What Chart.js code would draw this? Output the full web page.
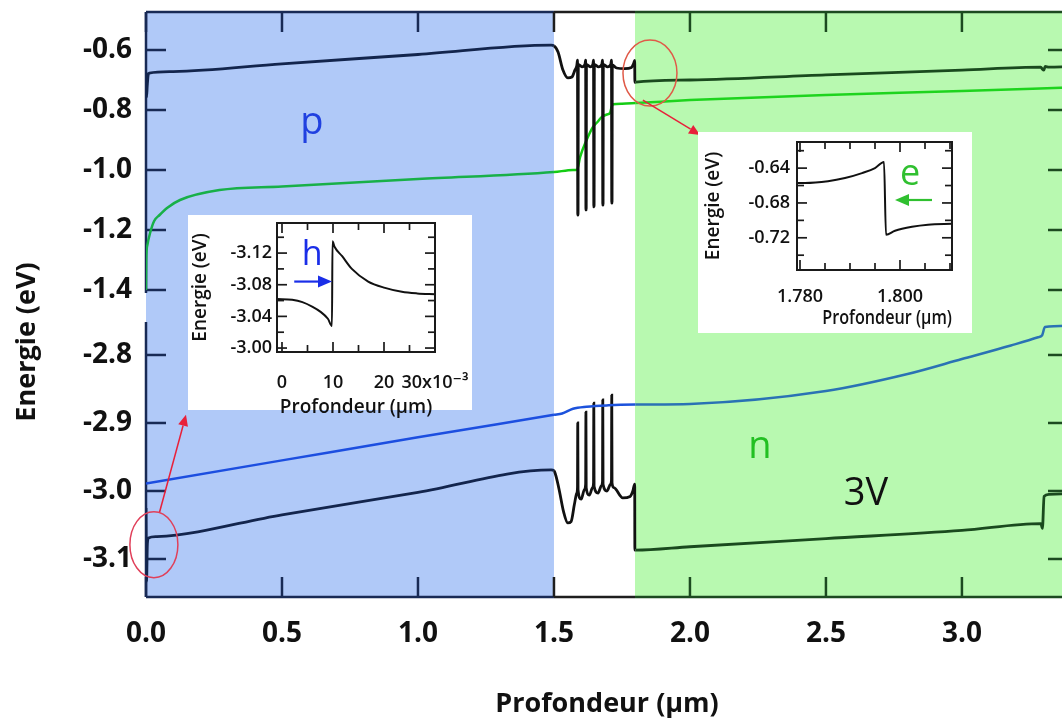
<!DOCTYPE html>
<html>
<head>
<meta charset="utf-8">
<title>Energie - Profondeur</title>
<script src="https://cdn.jsdelivr.net/npm/chart.js@4.4.1/dist/chart.umd.min.js"></script>
<style>
html, body { margin:0; padding:0; background:#fff; width:1062px; height:722px; overflow:hidden; }
#wrap { position:relative; width:1062px; height:722px; overflow:hidden; }
#main { position:absolute; left:0; top:0; }
#insL { position:absolute; left:188px; top:215px; }
#insR { position:absolute; left:698px; top:132px; }
</style>
</head>
<body>
<div id="wrap">
<canvas id="main" width="1075" height="722"></canvas>
<canvas id="insL" width="300" height="215"></canvas>
<canvas id="insR" width="300" height="215"></canvas>
</div>
<script>
// ---------------- data ----------------
const xTicks    = [0, 0.5, 1.0, 1.5, 2.0, 2.5, 3.0];
const yTopTicks = [-1.4, -1.2, -1.0, -0.8, -0.6];
const yBotTicks = [-3.1, -3.0, -2.9, -2.8];
const pRegion = [0, 1.5];
const nRegion = [1.798, 3.39];

// conduction band (black, top panel)
const ecX = [0, 0.002, 0.0045, 0.008, 0.012, 0.1, 0.5, 1.0, 1.49, 1.50, 1.515, 1.533, 1.551, 1.566, 1.577, 1.584,
  1.5865, 1.5875, 1.5885, 1.5895, 1.603, 1.614,
  1.6165, 1.6175, 1.6185, 1.6195, 1.633, 1.643,
  1.6455, 1.6465, 1.6475, 1.6485, 1.664, 1.676,
  1.6785, 1.6795, 1.6805, 1.6815, 1.697, 1.709,
  1.7115, 1.7125, 1.7135, 1.7145, 1.73, 1.76, 1.785, 1.793, 1.7968, 1.7975, 1.80, 2.0, 2.5, 3.0, 3.29, 3.296, 3.301, 3.306, 3.32, 3.39];
const ecY = [-0.675, -0.757, -0.72, -0.683, -0.677, -0.672, -0.646, -0.615, -0.584, -0.586, -0.607, -0.667, -0.693, -0.69, -0.667, -0.652,
  -0.634, -1.15, -1.15, -0.648, -0.656, -0.648,
  -0.634, -1.133, -1.133, -0.648, -0.656, -0.648,
  -0.634, -1.123, -1.123, -0.648, -0.656, -0.648,
  -0.634, -1.117, -1.117, -0.648, -0.656, -0.648,
  -0.634, -1.11, -1.11, -0.65, -0.66, -0.662, -0.658, -0.645, -0.635, -0.708, -0.707, -0.70, -0.683, -0.667, -0.657, -0.664, -0.667, -0.655, -0.657, -0.656];

// electron quasi-Fermi level (green, top panel)
const efnX = [0, 0.001, 0.005, 0.015, 0.03, 0.05, 0.08, 0.125, 0.27, 0.5, 1.0, 1.5, 1.57, 1.585, 1.596, 1.62, 1.643, 1.66, 1.676, 1.695, 1.706, 1.712, 1.717, 1.75, 1.8, 2.0, 2.5, 3.0, 3.39];
const efnY = [-1.40, -1.30, -1.25, -1.21, -1.17, -1.15, -1.125, -1.10, -1.067, -1.055, -1.03, -1.007, -1.0, -0.999, -0.957, -0.90, -0.857, -0.84, -0.823, -0.815, -0.81, -0.79, -0.781, -0.779, -0.777, -0.767, -0.75, -0.737, -0.725];

// hole quasi-Fermi level (blue, bottom panel)
const efpX = [0, 0.5, 1.0, 1.5, 1.53, 1.57, 1.62, 1.7, 1.8, 2.0, 2.5, 2.8, 3.0, 3.18, 3.28, 3.295, 3.305, 3.39];
const efpY = [-2.989, -2.955, -2.921, -2.888, -2.886, -2.879, -2.876, -2.874, -2.873, -2.872, -2.853, -2.828, -2.806, -2.786, -2.774, -2.771, -2.759, -2.757];

// valence band (black, bottom panel)
const evX = [0, 0.002, 0.005, 0.009, 0.04, 0.5, 1.0, 1.49, 1.50, 1.508, 1.52, 1.535, 1.551, 1.563, 1.575, 1.584,
  1.5865, 1.5875, 1.5885, 1.60, 1.612,
  1.6165, 1.6175, 1.6185, 1.63, 1.642,
  1.6455, 1.6465, 1.6475, 1.662, 1.675,
  1.6785, 1.6795, 1.6805, 1.695, 1.708,
  1.7115, 1.7125, 1.7135, 1.72, 1.753, 1.78, 1.79, 1.7968, 1.7975, 1.80, 2.0, 2.5, 3.0, 3.29, 3.296, 3.302, 3.32, 3.39];
const evY = [-3.025, -3.133, -3.078, -3.069, -3.067, -3.035, -3.002, -2.969, -2.970, -2.979, -3.0, -3.03, -3.047, -3.045, -3.02, -3.003,
  -2.995, -2.90, -2.998, -3.012, -2.998,
  -2.99, -2.884, -2.995, -3.006, -2.995,
  -2.988, -2.871, -2.993, -3.003, -2.992,
  -2.986, -2.866, -2.99, -3.0, -2.99,
  -2.984, -2.859, -2.988, -2.995, -3.01, -3.008, -3.0, -2.99, -3.087, -3.087, -3.082, -3.07, -3.058, -3.048, -3.055, -3.008, -3.005, -3.004];

// left inset (holes near x = 0)
const insLX = [-0.001, 0.002, 0.004, 0.006, 0.0075, 0.009, 0.0098, 0.0099, 0.0103, 0.0118, 0.0137, 0.0169, 0.0202, 0.0235, 0.0265, 0.030];
const insLY = [-3.062, -3.061, -3.058, -3.052, -3.046, -3.037, -3.028, -3.135, -3.128, -3.116, -3.10, -3.084, -3.076, -3.071, -3.069, -3.068];
const insLXTicks  = [0, 0.01, 0.02, 0.03];
const insLXLabels = ['0', '10', '20', '30x10\u207B\u00B3'];
const insLXMinor  = [0, 0.005, 0.01, 0.015, 0.02, 0.025, 0.03];
const insLYTicks  = [-3.12, -3.08, -3.04, -3.00];
const insLYMinor  = [-3.14, -3.12, -3.10, -3.08, -3.06, -3.04, -3.02, -3.00];

// right inset (electrons near x = 1.8)
const insRX = [1.7794, 1.781, 1.7856, 1.789, 1.7924, 1.795, 1.7968, 1.7972, 1.799, 1.8024, 1.8056, 1.8104];
const insRY = [-0.657, -0.657, -0.655, -0.6514, -0.6457, -0.640, -0.633, -0.7166, -0.712, -0.7074, -0.705, -0.704];
const insRXTicks = [1.78, 1.80];
const insRXMinor = [1.78, 1.785, 1.79, 1.795, 1.80, 1.805, 1.81];
const insRYTicks = [-0.72, -0.68, -0.64];
const insRYMinor = [-0.74, -0.72, -0.70, -0.68, -0.66, -0.64, -0.62];

// ---------------- style ----------------
const FONT = "'Open Sans', 'DejaVu Sans', sans-serif";
Chart.defaults.font.family = FONT;
const P_BG = '#b0c9f8', N_BG = '#b8f9b0';
const FRAME  = ['#182a55', '#1e1e1e', '#1c4a20'];
const BLACKS = ['#13254d', '#111111', '#1a4a1e'];
const GREENS = ['#18b048', '#14cc14', '#1ed41e'];
const BLUES  = ['#1c4ee0', '#1c52dc', '#2a72b4'];

function regionOf(v) { return v < pRegion[1] ? 0 : (v < nRegion[0] ? 1 : 2); }
function pts(xs, ys) { return xs.map((x, i) => ({ x: x, y: ys[i] })); }
function seg(ctx, x1, y1, x2, y2) { ctx.beginPath(); ctx.moveTo(x1, y1); ctx.lineTo(x2, y2); ctx.stroke(); }
function noPad(s) { s.paddingTop = 0; s.paddingBottom = 0; s.paddingLeft = 0; s.paddingRight = 0; }
function arrow(ctx, x1, y1, x2, y2, color, lw, hl, hw) {
  const ang = Math.atan2(y2 - y1, x2 - x1);
  ctx.save();
  ctx.strokeStyle = color; ctx.fillStyle = color; ctx.lineWidth = lw;
  const bx = x2 - hl * Math.cos(ang), by = y2 - hl * Math.sin(ang);
  seg(ctx, x1, y1, bx, by);
  ctx.beginPath();
  ctx.moveTo(x2, y2);
  ctx.lineTo(bx + hw * Math.sin(ang), by - hw * Math.cos(ang));
  ctx.lineTo(bx - hw * Math.sin(ang), by + hw * Math.cos(ang));
  ctx.closePath(); ctx.fill();
  ctx.restore();
}
const segColor = pal => ({ borderColor: c => pal[regionOf(c.p0.parsed.x)] });

// ---------------- main chart ----------------
const mainDeco = {
  id: 'mainDeco',
  beforeDatasetsDraw(chart) {
    const { ctx, chartArea: a, scales: { x, yTop, yBot } } = chart;
    ctx.save();
    const p0 = x.getPixelForValue(pRegion[0]), p1 = x.getPixelForValue(pRegion[1]);
    const n0 = x.getPixelForValue(nRegion[0]), n1 = x.getPixelForValue(nRegion[1]);
    ctx.fillStyle = P_BG; ctx.fillRect(p0, a.top, p1 - p0, a.bottom - a.top);
    ctx.fillStyle = N_BG; ctx.fillRect(n0, a.top, Math.max(n1, a.right) - n0, a.bottom - a.top);
    // frame (broken left/right axes) and inward ticks
    ctx.lineWidth = 2.5; ctx.lineCap = 'butt';
    const b = [a.left, p1, n0, a.right];
    for (const yy of [a.top, a.bottom]) {
      for (let r = 0; r < 3; r++) { ctx.strokeStyle = FRAME[r]; seg(ctx, b[r], yy, b[r + 1], yy); }
    }
    const breakTop = yTop.getPixelForValue(-1.41);
    ctx.strokeStyle = FRAME[0];
    seg(ctx, a.left, a.top, a.left, breakTop); seg(ctx, a.left, yBot.top, a.left, a.bottom);
    ctx.strokeStyle = FRAME[2];
    seg(ctx, a.right, a.top, a.right, breakTop); seg(ctx, a.right, yBot.top, a.right, a.bottom);
    const TL = 20;
    const yt = yTopTicks.map(v => yTop.getPixelForValue(v)).concat(yBotTicks.map(v => yBot.getPixelForValue(v)));
    for (const py of yt) {
      ctx.strokeStyle = FRAME[0]; seg(ctx, a.left, py, a.left + TL, py);
      ctx.strokeStyle = FRAME[2]; seg(ctx, a.right - TL, py, a.right, py);
    }
    for (const v of xTicks) {
      const px = x.getPixelForValue(v);
      ctx.strokeStyle = FRAME[regionOf(v)];
      seg(ctx, px, a.bottom, px, a.bottom - TL);
      seg(ctx, px, a.top, px, a.top + TL);
    }
    ctx.restore();
  },
  afterDatasetsDraw(chart) {
    const { ctx, scales: { x, yTop, yBot } } = chart;
    ctx.save();
    // red circles and arrows
    ctx.lineWidth = 1.5;
    ctx.strokeStyle = '#e0405a';
    ctx.beginPath(); ctx.ellipse(x.getPixelForValue(0.029), yBot.getPixelForValue(-3.079), 24, 33, 0, 0, Math.PI * 2); ctx.stroke();
    arrow(ctx, x.getPixelForValue(0.05), yBot.getPixelForValue(-3.031), x.getPixelForValue(0.147), yBot.getPixelForValue(-2.888), '#e8203a', 1.5, 11, 5);
    ctx.strokeStyle = '#e05a48';
    ctx.beginPath(); ctx.ellipse(x.getPixelForValue(1.853), yTop.getPixelForValue(-0.677), 27, 33, 0, 0, Math.PI * 2); ctx.stroke();
    arrow(ctx, x.getPixelForValue(1.827), yTop.getPixelForValue(-0.767), x.getPixelForValue(2.037), yTop.getPixelForValue(-0.883), '#e8203a', 1.5, 11, 5);
    // region labels
    ctx.textAlign = 'center'; ctx.textBaseline = 'alphabetic';
    ctx.font = '38px ' + FONT;
    ctx.fillStyle = '#2040e0'; ctx.fillText('p', x.getPixelForValue(0.61), yTop.getPixelForValue(-0.88));
    ctx.fillStyle = '#22c022'; ctx.fillText('n', x.getPixelForValue(2.257), yBot.getPixelForValue(-2.951));
    ctx.fillStyle = '#111111'; ctx.fillText('3V', x.getPixelForValue(2.647), yBot.getPixelForValue(-3.021));
    // y-axis title (spans both panels)
    ctx.save();
    ctx.translate(27, 342); ctx.rotate(-Math.PI / 2);
    ctx.font = 'bold 27px ' + FONT; ctx.textBaseline = 'middle'; ctx.fillStyle = '#111';
    ctx.fillText('Energie (eV)', 0, 0);
    ctx.restore();
    ctx.restore();
  }
};

const tickFont = { family: FONT, size: 28, weight: 'bold' };
new Chart(document.getElementById('main'), {
  type: 'line',
  data: {
    datasets: [
      { label: 'Ec',  data: pts(ecX, ecY),   yAxisID: 'yTop', borderColor: '#111', segment: segColor(BLACKS), borderWidth: 2.8, pointRadius: 0, cubicInterpolationMode: 'monotone' },
      { label: 'EFn', data: pts(efnX, efnY), yAxisID: 'yTop', borderColor: '#14cc14', segment: segColor(GREENS), borderWidth: 2.5, pointRadius: 0, cubicInterpolationMode: 'monotone' },
      { label: 'EFp', data: pts(efpX, efpY), yAxisID: 'yBot', borderColor: '#1c52dc', segment: segColor(BLUES), borderWidth: 2.5, pointRadius: 0, cubicInterpolationMode: 'monotone' },
      { label: 'Ev',  data: pts(evX, evY),   yAxisID: 'yBot', borderColor: '#111', segment: segColor(BLACKS), borderWidth: 2.8, pointRadius: 0, cubicInterpolationMode: 'monotone' }
    ]
  },
  options: {
    responsive: false, animation: false, devicePixelRatio: 1, events: [],
    layout: { padding: { top: 12, right: 7, left: 0, bottom: 0 } },
    plugins: { legend: { display: false }, tooltip: { enabled: false } },
    scales: {
      x: {
        type: 'linear', position: 'bottom', min: 0, max: 3.39,
        afterBuildTicks: s => { s.ticks = xTicks.map(v => ({ value: v })); },
        ticks: { font: tickFont, color: '#111', padding: 20, maxRotation: 0, autoSkip: false, callback: v => Number(v).toFixed(1) },
        grid: { display: false, drawTicks: false }, border: { display: false },
        title: { display: true, text: 'Profondeur (\u00B5m)', color: '#111', font: { family: FONT, size: 27, weight: 'bold' }, padding: { top: 0, bottom: 1 } },
        afterFit: s => { s.height = 125; noPad(s); }
      },
      yTop: {
        type: 'linear', position: 'left', stack: 'energy', stackWeight: 310, weight: 1,
        min: -1.5067, max: -0.4733,
        afterBuildTicks: s => { s.ticks = yTopTicks.map(v => ({ value: v })); },
        ticks: { font: tickFont, color: '#111', padding: 14, callback: v => Number(v).toFixed(1) },
        grid: { display: false, drawTicks: false }, border: { display: false },
        afterFit: s => { s.width = 146; noPad(s); }
      },
      yBot: {
        type: 'linear', position: 'left', stack: 'energy', stackWeight: 275, weight: 0,
        min: -3.1559, max: -2.7515,
        afterBuildTicks: s => { s.ticks = yBotTicks.map(v => ({ value: v })); },
        ticks: { font: tickFont, color: '#111', padding: 14, callback: v => Number(v).toFixed(1) },
        grid: { display: false, drawTicks: false }, border: { display: false },
        afterFit: s => { s.width = 146; noPad(s); }
      }
    }
  },
  plugins: [mainDeco]
});

// ---------------- insets ----------------
function insetDeco(o) {
  return {
    id: 'insetDeco',
    beforeDraw(chart) {
      const ctx = chart.ctx;
      ctx.save(); ctx.fillStyle = '#ffffff'; ctx.fillRect(0, 0, o.boxW, o.boxH); ctx.restore();
    },
    afterDatasetsDraw(chart) {
      const { ctx, chartArea: a, scales: { x, y } } = chart;
      ctx.save();
      ctx.strokeStyle = '#1a1a1a'; ctx.lineWidth = 2;
      ctx.strokeRect(a.left, a.top, a.right - a.left, a.bottom - a.top);
      ctx.lineWidth = 1.7;
      const isMaj = (arr, v) => arr.some(t => Math.abs(t - v) < 1e-9);
      for (const v of o.xMinor) {
        const px = x.getPixelForValue(v), L = isMaj(o.xMajor, v) ? 10 : 7;
        seg(ctx, px, a.bottom, px, a.bottom - L); seg(ctx, px, a.top, px, a.top + L);
      }
      for (const v of o.yMinor) {
        const py = y.getPixelForValue(v), L = isMaj(o.yMajor, v) ? 10 : 7;
        seg(ctx, a.left, py, a.left + L, py); seg(ctx, a.right, py, a.right - L, py);
      }
      ctx.fillStyle = o.color; ctx.font = o.labelFont;
      ctx.textAlign = 'center'; ctx.textBaseline = 'alphabetic';
      ctx.fillText(o.label, x.getPixelForValue(o.labelAt[0]), y.getPixelForValue(o.labelAt[1]));
      arrow(ctx, x.getPixelForValue(o.arrowFrom[0]), y.getPixelForValue(o.arrowFrom[1]),
                 x.getPixelForValue(o.arrowTo[0]), y.getPixelForValue(o.arrowTo[1]), o.color, 2.2, 14, 6);
      ctx.restore();
    }
  };
}
const inTick = { family: FONT, size: 18, weight: 600 };
const inTitle = { family: FONT, size: 19, weight: 600 };

new Chart(document.getElementById('insL'), {
  type: 'line',
  data: { datasets: [{ data: pts(insLX, insLY), borderColor: '#111', borderWidth: 2, pointRadius: 0, cubicInterpolationMode: 'monotone' }] },
  options: {
    responsive: false, animation: false, devicePixelRatio: 1, events: [],
    layout: { padding: { top: 8, right: 53, left: 0, bottom: 0 } },
    plugins: { legend: { display: false }, tooltip: { enabled: false } },
    scales: {
      x: {
        type: 'linear', min: -0.00098, max: 0.030,
        afterBuildTicks: s => { s.ticks = insLXTicks.map(v => ({ value: v })); },
        ticks: { font: inTick, color: '#111', padding: 20, maxRotation: 0, autoSkip: false, callback: (v, i) => insLXLabels[i] },
        grid: { display: false, drawTicks: false }, border: { display: false },
        title: { display: true, text: 'Profondeur (\u00B5m)', color: '#111', font: inTitle, padding: { top: 0, bottom: 11 } },
        afterFit: s => { s.height = 78; noPad(s); }
      },
      y: {
        type: 'linear', reverse: true, min: -3.158, max: -2.995,
        afterBuildTicks: s => { s.ticks = insLYTicks.map(v => ({ value: v })); },
        ticks: { font: inTick, color: '#111', padding: 5, callback: v => Number(v).toFixed(2) },
        grid: { display: false, drawTicks: false }, border: { display: false },
        title: { display: true, text: 'Energie (eV)', color: '#111', font: inTitle, padding: { top: 1, bottom: 0 } },
        afterFit: s => { s.width = 89; noPad(s); }
      }
    }
  },
  plugins: [insetDeco({ boxW: 284, boxH: 195, xMinor: insLXMinor, xMajor: insLXTicks, yMinor: insLYMinor, yMajor: insLYTicks,
    color: '#1a2ee8', label: 'h', labelFont: '34px ' + FONT, labelAt: [0.0059, -3.105],
    arrowFrom: [0.0024, -3.084], arrowTo: [0.0098, -3.084] })]
});

new Chart(document.getElementById('insR'), {
  type: 'line',
  data: { datasets: [{ data: pts(insRX, insRY), borderColor: '#111', borderWidth: 2, pointRadius: 0, cubicInterpolationMode: 'monotone' }] },
  options: {
    responsive: false, animation: false, devicePixelRatio: 1, events: [],
    layout: { padding: { top: 10, right: 46, left: 0, bottom: 0 } },
    plugins: { legend: { display: false }, tooltip: { enabled: false } },
    scales: {
      x: {
        type: 'linear', min: 1.7794, max: 1.8104,
        afterBuildTicks: s => { s.ticks = insRXTicks.map(v => ({ value: v })); },
        ticks: { font: inTick, color: '#111', padding: 16, maxRotation: 0, autoSkip: false, callback: v => Number(v).toFixed(3) },
        grid: { display: false, drawTicks: false }, border: { display: false },
        title: { display: true, text: '      Profondeur (\u00B5m)', color: '#111', font: inTitle, padding: { top: 0, bottom: 17 } },
        afterFit: s => { s.height = 77; noPad(s); }
      },
      y: {
        type: 'linear', min: -0.757, max: -0.610,
        afterBuildTicks: s => { s.ticks = insRYTicks.map(v => ({ value: v })); },
        ticks: { font: inTick, color: '#111', padding: 7, callback: v => Number(v).toFixed(2) },
        grid: { display: false, drawTicks: false }, border: { display: false },
        title: { display: true, text: 'Energie (eV)', color: '#111', font: inTitle, padding: { top: 4, bottom: 0 } },
        afterFit: s => { s.width = 99; noPad(s); }
      }
    }
  },
  plugins: [insetDeco({ boxW: 274, boxH: 201, xMinor: insRXMinor, xMajor: insRXTicks, yMinor: insRYMinor, yMajor: insRYTicks,
    color: '#30c030', label: 'e', labelFont: '36px ' + FONT, labelAt: [1.8020, -0.659],
    arrowFrom: [1.8064, -0.6766], arrowTo: [1.7990, -0.6766] })]
});
</script>
</body>
</html>
